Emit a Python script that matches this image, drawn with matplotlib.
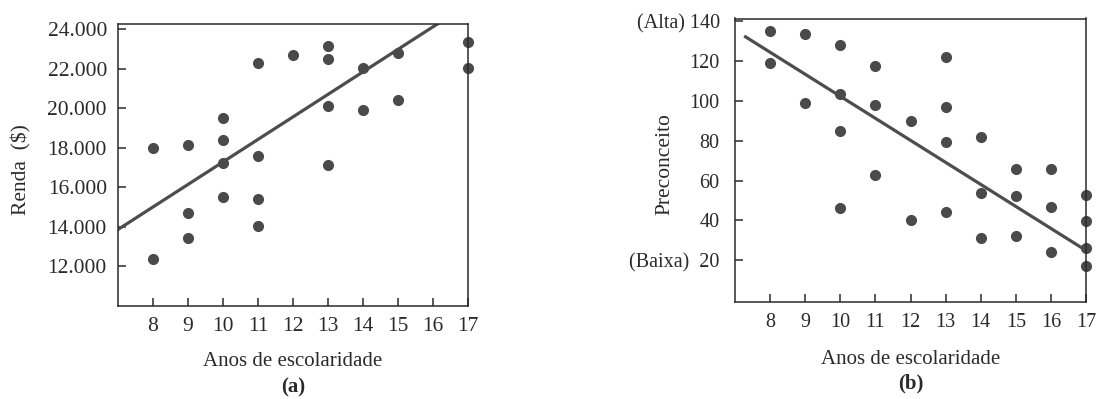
import matplotlib.pyplot as plt
import numpy as np

plt.rcParams["font.family"] = ["Liberation Serif", "DejaVu Serif"]
plt.rcParams["font.size"] = 15

cor_ponto = '#4a4a4a'
cor_linha = '#4d4d4d'

# ---------------- dados (a) : renda x anos de escolaridade
anos_a = [8, 8, 9, 9, 9, 10, 10, 10, 10, 11, 11, 11, 11, 12,
          13, 13, 13, 13, 14, 14, 15, 15, 17, 17]
renda = [18000, 12400, 18150, 14700, 13450, 19500, 18400, 17250, 15500,
         22300, 17600, 15400, 14050, 22700, 23150, 22500, 20100, 17150,
         22050, 19900, 22800, 20400, 23350, 22050]
reta_a = (5900, 1138)  # intercepto, inclinacao
yticks_a = [12000, 14000, 16000, 18000, 20000, 22000, 24000]
ylabels_a = ['12.000', '14.000', '16.000', '18.000', '20.000', '22.000', '24.000']

# ---------------- dados (b) : preconceito x anos de escolaridade
anos_b = [8, 8, 9, 9, 10, 10, 10, 10, 11, 11, 11, 12, 12, 13, 13, 13, 13,
          14, 14, 14, 15, 15, 15, 16, 16, 16, 17, 17, 17, 17]
preconceito = [135, 119, 133.5, 99, 128, 103.5, 85, 46, 117.5, 98, 63, 90, 40,
               122, 97, 79.5, 44, 82, 54, 31, 66, 52.5, 32, 66, 47, 24,
               53, 39.5, 26, 17]
reta_b = (213.1, -11.07)
extensao_b = (7.3, 16.85)
yticks_b = [20, 40, 60, 80, 100, 120, 140]
ylabels_b = ['(Baixa)  20', '40', '60', '80', '100', '120', '(Alta) 140']

anos_ticks = np.arange(8, 18)

fig = plt.figure(figsize=(10.98, 3.99), dpi=100)
ax1 = fig.add_axes([118/1098, 1-306/399, 350/1098, 282/399])
ax2 = fig.add_axes([735/1098, 1-302/399, 351/1098, 283.5/399])


def estilo(ax, ypad, tam):
    for s in ax.spines.values():
        s.set_linewidth(1.1)
        s.set_color('#2a2a2a')
    ax.set_xlim(7, 17)
    ax.set_xticks(anos_ticks)
    ax.tick_params(direction='in', length=6, width=1.1, color='#2a2a2a',
                   labelsize=tam, labelcolor='#2a2a2a')
    ax.tick_params(axis='x', pad=8)
    ax.tick_params(axis='y', pad=ypad)
    ax.set_xlabel('Anos de escolaridade', color='#2a2a2a')
    ax.xaxis.label.set_va('center')


# ---- (a)
estilo(ax1, 8, 15.5)
ax1.set_ylim(10000, 24250)
ax1.set_yticks(yticks_a, ylabels_a)
xx = np.array([7, 17])
ax1.plot(xx, reta_a[0] + reta_a[1]*xx, c=cor_linha, lw=2.3)
ax1.plot(anos_a, renda, 'o', ms=7, c=cor_ponto, clip_on=False)
ax1.set_ylabel('Renda  ($)', color='#2a2a2a', fontsize=15.5, va='center')
ax1.yaxis.set_label_coords(-97/350, 0.484)
ax1.xaxis.set_label_coords(0.5, -56/282)
ax1.annotate('(a)', xy=(0.5, -81/282), xycoords='axes fraction',
             ha='center', va='center', fontweight='bold', color='#2a2a2a')

# ---- (b)
estilo(ax2, 11, 14.5)
ax2.set_ylim(-1, 141.5)
ax2.set_yticks(yticks_b, ylabels_b)
xb = np.array(extensao_b)
ax2.plot(xb, reta_b[0] + reta_b[1]*xb, c=cor_linha, lw=2.3)
ax2.plot(anos_b, preconceito, 'o', ms=7, c=cor_ponto, clip_on=False)
ax2.set_ylabel('Preconceito', color='#2a2a2a', fontsize=15.5, va='center')
ax2.yaxis.set_label_coords(-70/351, 0.488)
ax2.xaxis.set_label_coords(0.5, -57/283.5)
ax2.annotate('(b)', xy=(0.5, -81/283.5), xycoords='axes fraction',
             ha='center', va='center', fontweight='bold', color='#2a2a2a')

fig.savefig('out.png', dpi=100)
